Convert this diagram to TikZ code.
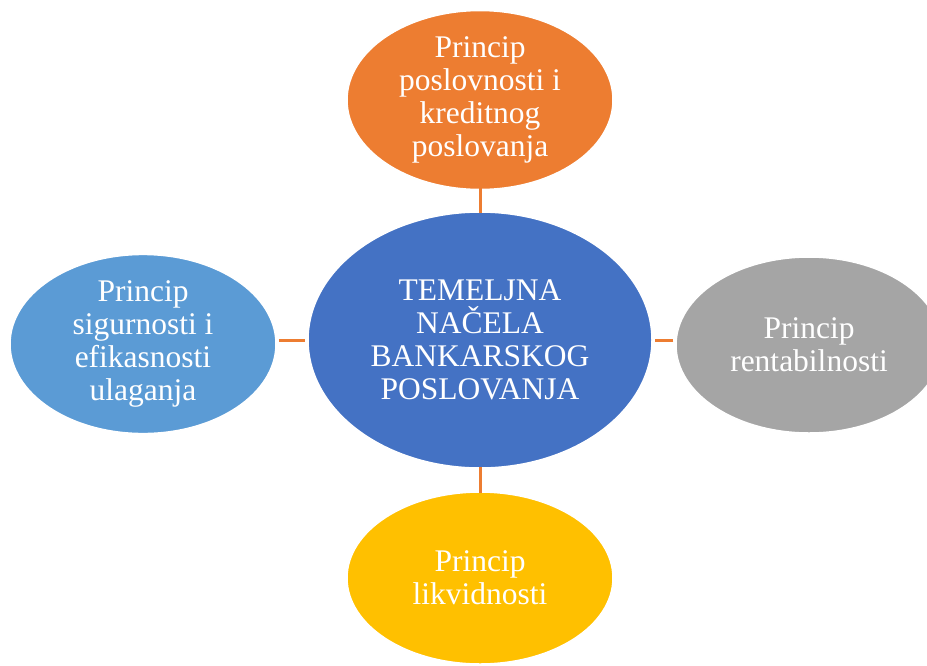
\documentclass[tikz,border=0pt]{standalone}
\usepackage{fontspec}
\setmainfont{Liberation Serif}
\usetikzlibrary{shapes.geometric}
\definecolor{corange}{HTML}{ED7D31}
\definecolor{cblue}{HTML}{4472C4}
\definecolor{clblue}{HTML}{5B9BD5}
\definecolor{cgray}{HTML}{A5A5A5}
\definecolor{cgold}{HTML}{FFC000}
\tikzset{
  bubble/.style={ellipse, draw=white, line width=1.5pt, inner sep=0pt, text=white, align=center,
    font=\fontsize{31.5}{33}\selectfont},
  link/.style={draw=corange, line width=3pt}
}
\begin{document}
\begin{tikzpicture}[x=1pt,y=-1pt]
\useasboundingbox (0,0) rectangle (927,665);
\begin{scope}
\clip (0,0) rectangle (927,665);
\node[bubble, fill=cblue, minimum width=344pt, minimum height=256pt] (c) at (480,340) {TEMELJNA\\NAČELA\\BANKARSKOG\\POSLOVANJA};
\node[bubble, fill=corange, minimum width=266pt, minimum height=176pt] (t) at (480,100) {Princip\\poslovnosti i\\kreditnog\\poslovanja};
\node[bubble, fill=clblue, minimum width=266pt, minimum height=176pt] (l) at (143,344) {Princip\\sigurnosti i\\efikasnosti\\ulaganja};
\node[bubble, fill=cgray, minimum width=266pt, minimum height=176pt] (r) at (809,345) {Princip\\rentabilnosti};
\node[bubble, fill=cgold, minimum width=266pt, minimum height=172pt] (b) at (480,578) {Princip\\likvidnosti};
\end{scope}
\draw[link] ([yshift=2pt]t.south) -- ([yshift=-2pt]c.north);
\draw[link] ([yshift=-2pt]b.north) -- ([yshift=2pt]c.south);
\draw[link] ([xshift=2pt]l.east |- c.west) -- ([xshift=-2pt]c.west);
\draw[link] ([xshift=-2pt]r.west |- c.east) -- ([xshift=2pt]c.east);
\end{tikzpicture}
\end{document}
